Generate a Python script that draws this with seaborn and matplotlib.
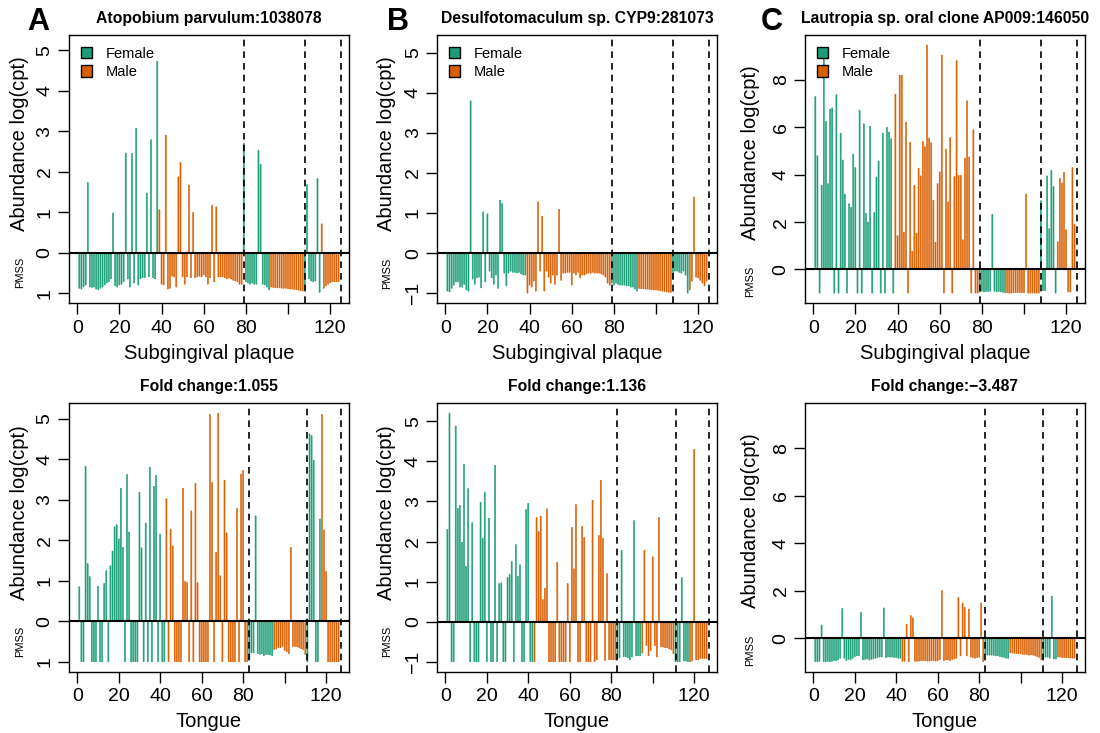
import matplotlib
matplotlib.use("Agg")
import matplotlib.pyplot as plt
import seaborn as sns
import pandas as pd
from matplotlib.patches import Patch
from matplotlib.transforms import blended_transform_factory

# --- COLOURS / GROUPS ---
FEMALE = "#1b9e77"
MALE = "#d95f02"
SEX_COLORS = {"Female": FEMALE, "Male": MALE}

# sex blocks in sample order (label, count)
SUB_BLOCKS = [("Female", 38), ("Male", 40), ("Female", 13), ("Male", 16), ("Female", 8), ("Male", 9)]
TONGUE_BLOCKS = [("Female", 42), ("Male", 40), ("Female", 12), ("Male", 16), ("Female", 7), ("Male", 9)]

# dashed separators (sample index)
SUB_DIVIDERS = [79.1, 108, 125]
TONGUE_DIVIDERS = [82.9, 111, 127]

# --- DATA: positive = abundance log(cpt), negative = -PMSS ---
sub_atopobium = [
    -0.88, -0.90, -0.85, -0.80, 1.73, -0.85, -0.86, -0.85, -0.90, -0.92,
    -0.88, -0.85, -0.80, -0.75, -0.72, -0.65, 0.98, -0.82, -0.85, -0.80,
    -0.78, -0.72, 2.46, -0.65, -0.85, 2.45, -0.75, 3.07, -0.80, -0.65,
    -0.62, -0.62, 1.47, -0.60, 2.79, -0.62, -0.65, 4.73, 1.06, -0.78,
    -0.80, 2.90, -0.90, -0.88, -0.58, -0.60, -0.85, 1.87, 2.23, -0.60,
    -0.78, -0.60, 1.67, -0.62, 0.99, -0.62, -0.60, -0.58, -0.60, -0.55,
    -0.60, -0.78, -0.62, 1.17, -0.72, 1.13, -0.60, -0.60, -0.60, -0.62,
    -0.65, -0.63, -0.65, -0.68, -0.70, -0.72, -0.78, -0.78, 2.70, -0.72,
    -0.75, -0.78, -0.75, -0.78, -0.78, 2.53, 2.18, -0.78, -0.80, -0.85,
    -0.92, -0.85, -0.86, -0.87, -0.87, -0.87, -0.88, -0.88, -0.88, -0.89,
    -0.90, -0.90, -0.91, -0.92, -0.93, -0.94, -0.95, -0.92, 1.68, -0.65,
    -0.70, -0.72, -0.70, 1.83, -0.98, 0.71, -0.88, -0.82, -0.78, -0.75,
    -0.72, -0.72, -0.72, -0.72,
]
sub_desulfo = [
    -0.95, -0.97, -0.88, -0.80, -0.72, -0.72, -0.85, -0.85, -0.78, -0.92,
    -0.95, 3.80, -0.65, -0.78, -0.62, -0.60, -0.87, 1.03, -0.72, 0.98,
    -0.45, -0.62, -0.78, -0.55, -0.88, 1.32, 1.24, -0.50, -0.82, -0.50,
    -0.45, -0.48, -0.48, -0.50, -0.48, -0.52, -0.55, -0.55, -1.00, -0.80,
    -0.85, -0.70, -0.95, 1.28, -0.45, 0.92, -0.95, -0.45, -0.60, -0.75,
    -0.55, -0.78, -0.55, 1.09, -0.68, -0.50, -0.50, -0.48, -0.48, -0.80,
    -0.50, -0.55, -0.48, -0.62, -0.55, -0.55, -0.52, -0.50, -0.50, -0.48,
    -0.50, -0.50, -0.50, -0.52, -0.55, -0.60, -0.75, -0.80, -0.75, -0.80,
    -0.75, -0.78, -0.80, -0.80, -0.80, -0.82, -0.82, -0.85, -0.85, -0.90,
    -0.95, -0.88, -0.89, -0.89, -0.90, -0.90, -0.91, -0.91, -0.92, -0.92,
    -0.93, -0.94, -0.95, -0.96, -0.97, -0.98, -0.98, -0.65, -0.45, -0.45,
    -0.48, -0.50, -0.45, -0.55, -1.00, -0.92, -0.70, 1.40, -0.60, -0.62,
    -0.68, -0.75, -0.82, -0.70,
]
sub_lautropia = [
    7.30, 4.80, -1.00, 3.55, 9.00, 6.25, 3.62, 6.77, 6.82, -1.00,
    7.38, -1.00, 5.75, 4.62, 3.18, -1.00, 2.77, 2.62, 4.87, 4.30,
    -1.00, 6.72, -1.00, 6.15, 2.37, 2.00, 6.05, -1.00, 2.40, 3.90,
    4.58, -1.00, 5.75, -1.00, 6.00, 5.80, 5.52, -1.00, 7.40, 1.42,
    8.20, 8.20, 1.57, 6.22, -1.00, 5.37, 0.77, 3.55, 1.52, 4.27,
    3.95, 5.40, 5.18, 9.48, 5.55, 5.35, 2.92, 1.15, 3.62, 4.12,
    9.05, -1.00, 5.08, 2.85, 5.57, -1.00, 3.92, 8.82, 3.97, 3.97,
    1.25, 4.70, 7.12, 4.75, -1.00, 5.90, -1.00, -1.00, -0.95, -0.92,
    -0.95, -0.93, -0.93, -0.92, 2.33, -0.92, -0.95, -0.93, -0.95, -0.97,
    -0.98, -0.98, -1.00, -1.00, -0.98, -0.98, -0.98, -0.98, -0.98, -0.98,
    3.18, -1.00, -1.00, -1.00, -1.00, -1.00, -1.00, 2.90, -0.90, -0.90,
    3.95, 1.72, 4.18, 3.50, -1.00, 1.17, 3.85, 3.65, 4.10, 1.67,
    -0.95, -0.95, 4.30, 1.90,
]
tongue_atopobium = [
    0.85, -1.00, -1.00, 3.82, 1.42, 1.10, -1.00, -1.00, -1.00, 0.86,
    -1.00, -1.00, 0.93, 1.25, -1.00, 1.37, 1.73, 2.33, 2.38, 2.03,
    3.28, 1.82, -1.00, 3.62, 2.20, -1.00, -1.00, -1.00, -1.00, 3.18,
    1.81, -1.00, 2.42, -1.00, 3.80, -1.00, 3.33, 3.60, -1.00, 2.15,
    -1.00, -1.00, 3.02, -1.00, 2.27, 1.86, -1.00, -1.00, -1.00, -1.00,
    3.28, 0.98, 0.95, -1.00, 2.72, -1.00, 3.40, 0.95, -1.00, -1.00,
    -1.00, -1.00, -1.00, 5.10, 3.42, -1.00, 1.70, 5.13, 1.12, -1.00,
    3.48, 2.18, -1.00, -1.00, -1.00, -1.00, 2.78, -1.00, 3.63, 3.72,
    -1.00, -1.00, -0.95, -0.78, -0.78, 2.60, -0.80, -0.82, -0.80, -0.85,
    -0.82, -0.82, -0.83, -0.85, -0.70, -0.68, -0.65, -0.65, -0.62, -0.72,
    -0.75, -0.80, 1.82, -0.62, -0.62, -0.63, -0.65, -0.68, -0.70, -0.82,
    -1.00, 4.62, 4.58, 3.97, -1.00, -1.00, 2.52, 5.10, 2.25, 1.23,
    -1.00, -1.00, -1.00, -1.00, -1.00, -1.00,
]
tongue_desulfo = [
    2.30, 5.20, -1.00, -1.00, 4.88, 2.83, 2.90, 1.98, 3.93, 1.38,
    3.32, -1.00, 2.47, -1.00, -1.00, -1.00, 2.98, 2.08, 3.23, -1.00,
    2.58, -1.00, -1.00, 3.90, -1.00, 0.95, 0.97, -1.00, -1.00, 1.10,
    1.18, 1.50, -1.00, 1.92, 1.13, 1.42, -1.00, -1.00, 2.80, 2.95,
    -1.00, -1.00, -1.00, 2.60, 2.25, 2.63, 0.55, 0.83, 2.82, -1.00,
    -1.00, -1.00, -1.00, 1.48, -1.00, -1.00, -1.00, -1.00, 0.95, -1.00,
    2.35, 1.32, 2.92, -1.00, -1.00, 2.38, 2.10, -1.00, -1.00, -1.00,
    3.03, -1.00, -0.95, 2.15, 3.53, 2.08, -0.97, 1.20, -0.95, -0.95,
    -0.95, -0.95, -0.92, -0.90, 1.78, -0.87, -0.88, -0.90, -0.95, -0.88,
    2.52, -0.85, -0.85, -0.85, -0.78, 1.78, -0.60, -0.85, -0.72, 1.62,
    -0.60, -0.88, 2.60, -0.62, -0.63, -0.65, -0.65, -0.68, -0.70, -0.80,
    -1.00, -1.00, -1.00, 1.10, -0.98, -0.98, -1.00, -1.00, -0.98, 4.30,
    -0.95, -0.95, -0.92, -0.92, -0.92, -0.92,
]
tongue_lautropia = [
    -1.00, -1.00, -0.98, 0.55, -1.00, -1.00, -0.98, -1.00, -0.98, -0.95,
    -0.95, -0.92, -0.85, 1.25, -0.85, -0.95, -0.90, -0.92, -0.85, -0.78,
    -0.75, -0.75, 1.08, -0.92, -0.90, -0.88, -0.92, -0.90, -0.88, -0.85,
    -0.82, -0.80, -0.80, 1.27, -0.82, -0.80, -0.80, -0.80, -0.82, -0.82,
    -0.85, -0.85, -0.98, -0.98, 0.58, -1.00, 0.95, 0.85, -0.98, -0.98,
    -0.97, -0.96, -0.95, -0.95, -0.97, -0.97, -0.95, -0.95, -0.97, -0.95,
    -0.90, 2.00, -0.95, -0.92, -0.92, -0.95, -0.90, -0.88, -0.85, 1.72,
    -0.75, 1.47, 1.30, -0.75, 1.22, -0.80, -0.82, -0.85, -0.82, -0.80,
    1.48, -1.00, -0.70, -0.72, -0.72, -0.72, -0.73, -0.75, -0.75, -0.78,
    -0.80, -0.82, -0.85, -0.85, -0.62, -0.63, -0.65, -0.65, -0.67, -0.65,
    -0.70, -0.68, -0.70, -0.72, -0.70, -0.72, -0.75, -0.78, -0.82, -0.92,
    -0.85, -0.80, -0.80, -0.85, 1.77, -0.88, -0.88, -0.80, -0.80, -0.82,
    -0.82, -0.83, -0.83, -0.84, -0.85, -0.85,
]

SPECIES = ["Atopobium parvulum:1038078", "Desulfotomaculum sp. CYP9:281073",
           "Lautropia sp. oral clone AP009:146050"]
FOLD_CHANGE = ["1.055", "1.136", "\u22123.487"]
LETTERS = ["A", "B", "C"]
Y_TICKS = [[-1, 0, 1, 2, 3, 4, 5], [-1, 0, 1, 2, 3, 4, 5], [0, 2, 4, 6, 8]]
Y_TICKLABELS = [["1", "0", "1", "2", "3", "4", "5"],
                ["\u22121", "0", "1", "2", "3", "4", "5"],
                ["0", "2", "4", "6", "8"]]
X_TICKS = [0, 20, 40, 60, 80, 100, 120]
X_TICKLABELS = ["0", "20", "40", "60", "80", "", "120"]

SUB_VALUES = [sub_atopobium, sub_desulfo, sub_lautropia]
TONGUE_VALUES = [tongue_atopobium, tongue_desulfo, tongue_lautropia]

sns.set_theme(style="ticks")
plt.rcParams["font.family"] = ["Liberation Sans", "DejaVu Sans"]
plt.rcParams.update({
    "axes.linewidth": 1.0, "axes.edgecolor": "black",
    "xtick.color": "black", "ytick.color": "black",
    "xtick.major.size": 8, "ytick.major.size": 8,
    "xtick.major.width": 1.0, "ytick.major.width": 1.0,
    "xtick.major.pad": 4, "ytick.major.pad": 3,
    "text.color": "black", "axes.labelcolor": "black",
})


def draw_panel(ax, values, blocks, dividers, ylim, yticks, yticklabels,
               xlabel, title, label_x, legend):
    sex = [s for s, n in blocks for _ in range(n)]
    n = len(values)
    df = pd.DataFrame({"sample": list(range(1, n + 1)), "value": values, "sex": sex})
    # one call per sex, bar edges in the bar colour so thin bars keep their hue
    for s, color in SEX_COLORS.items():
        sns.barplot(data=df[df["sex"] == s], x="sample", y="value", native_scale=True,
                    errorbar=None, width=0.5, color=color, saturation=1,
                    edgecolor=color, linewidth=0.4, snap=False, ax=ax)
    span = n - 1
    ax.set_xlim(1 - 0.04 * span, n + 0.04 * span)
    ax.set_ylim(ylim)
    ax.axhline(0, color="black", lw=1.5, zorder=3)
    for d in dividers:
        ax.axvline(d, color="black", lw=1.2, ls=(0, (4, 3)), zorder=3)

    ax.set_xticks(X_TICKS)
    ax.set_xticklabels(X_TICKLABELS, fontsize=14)
    ax.set_yticks(yticks)
    ax.set_yticklabels(yticklabels, fontsize=14, rotation=90, va="center")
    ax.set_xlabel(xlabel, fontsize=14.5, labelpad=5)
    ax.set_ylabel("")
    ax.set_title(title, fontsize=11.3, fontweight="bold", pad=9)
    for side in ["top", "right", "left", "bottom"]:
        ax.spines[side].set_visible(True)

    trans = blended_transform_factory(ax.transAxes, ax.transData)
    ax.text(label_x, ylim[1] / 2, "Abundance log(cpt)", rotation=90, fontsize=14.5,
            ha="center", va="center", transform=trans)
    ax.text(label_x, -0.5, "PMSS", rotation=90, fontsize=8,
            ha="center", va="center", transform=trans)

    if legend:
        handles = [Patch(facecolor=FEMALE, edgecolor="black", label="Female"),
                   Patch(facecolor=MALE, edgecolor="black", label="Male")]
        leg = ax.legend(handles=handles, loc="upper left", frameon=False, fontsize=10.5,
                        handlelength=0.8, handleheight=0.8, handletextpad=0.9,
                        labelspacing=0.3, borderaxespad=0.5, borderpad=0.3)
        leg.set_zorder(5)


fig = plt.figure(figsize=(11, 7.33), dpi=100)
lefts = [0.0627, 0.3973, 0.7318]
label_xs = [-0.175, -0.18, -0.195]
letter_x = [38, 398, 772]

for col in range(3):
    top_vals = SUB_VALUES[col]
    bot_vals = TONGUE_VALUES[col]
    lo = min(top_vals + bot_vals)
    hi = max(top_vals + bot_vals)
    pad = 0.04 * (hi - lo)
    ylim = (lo - pad, hi + pad)

    ax_top = fig.add_axes([lefts[col], 0.5866, 0.2545, 0.3656])
    draw_panel(ax_top, top_vals, SUB_BLOCKS, SUB_DIVIDERS, ylim, Y_TICKS[col],
               Y_TICKLABELS[col], "Subgingival plaque", SPECIES[col], label_xs[col], True)

    ax_bot = fig.add_axes([lefts[col], 0.0836, 0.2545, 0.3662])
    draw_panel(ax_bot, bot_vals, TONGUE_BLOCKS, TONGUE_DIVIDERS, ylim, Y_TICKS[col],
               Y_TICKLABELS[col], "Tongue", "Fold change:" + FOLD_CHANGE[col],
               label_xs[col], False)

    fig.text(letter_x[col] / 1100, 1 - 22 / 733, LETTERS[col], fontsize=22,
             fontweight="bold", ha="center", va="center")

fig.savefig("out.png", dpi=100)
